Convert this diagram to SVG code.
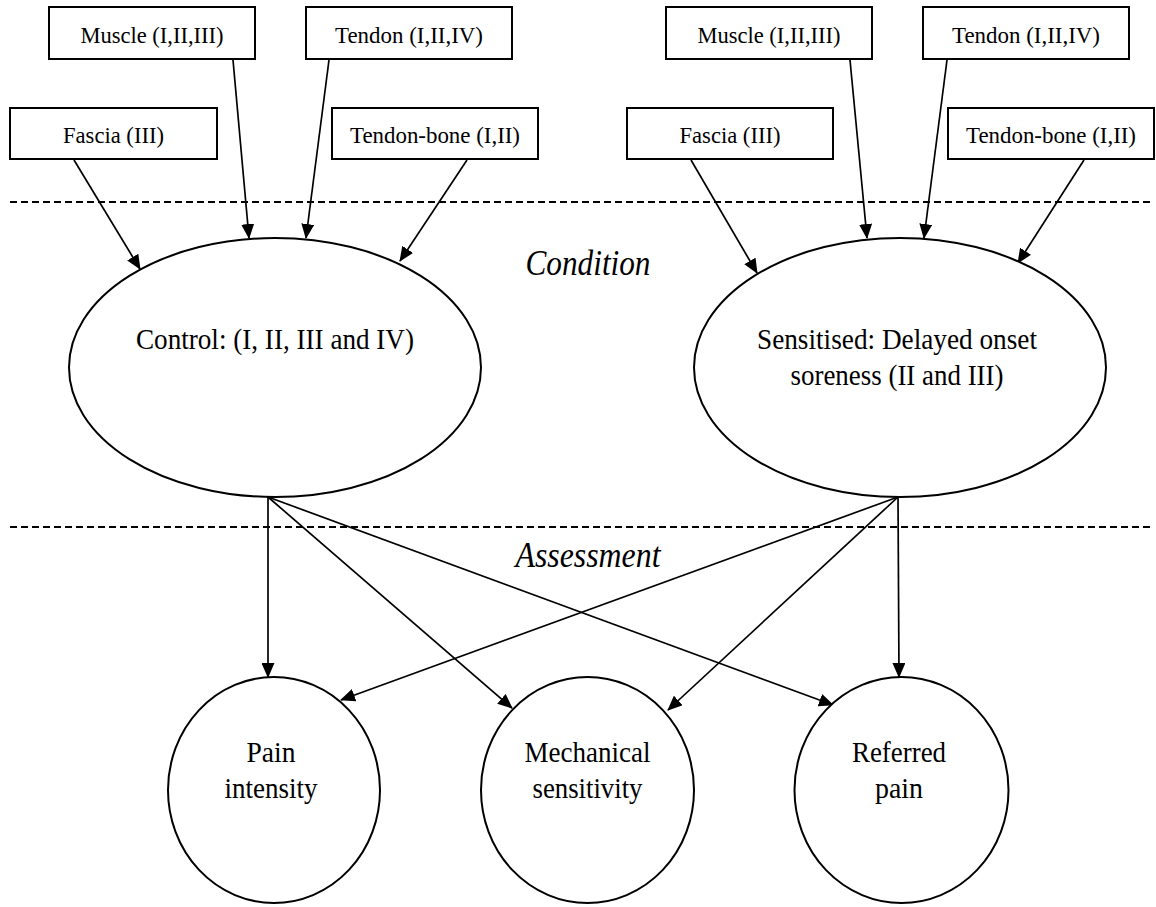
<svg xmlns="http://www.w3.org/2000/svg" width="1156" height="907" viewBox="0 0 1156 907">
<style>
.box{fill:#fff;stroke:#000;stroke-width:2}
.ell{fill:#fff;stroke:#000;stroke-width:2}
.t{font-family:"Liberation Serif","Times New Roman",serif;fill:#000;text-anchor:middle}
.bt{font-size:24px}
.nt{font-size:29px}
.lab{font-size:35px;font-style:italic}
.dash{stroke:#000;stroke-width:2;stroke-dasharray:7,4;fill:none}
.arr{stroke:#000;stroke-width:1.7;fill:none;marker-end:url(#ah)}
</style>
<defs>
<marker id="ah" viewBox="0 0 15 13" refX="14" refY="6.5" markerWidth="15" markerHeight="13" markerUnits="userSpaceOnUse" orient="auto">
<path d="M0,0 L15,6.5 L0,13 z" fill="#000"/>
</marker>
</defs>
<rect width="1156" height="907" fill="#fff"/>
<g id="separators">
<line class="dash" x1="10" y1="202" x2="1150" y2="202"/>
<line class="dash" x1="10" y1="527" x2="1150" y2="527"/>
</g>
<g id="labels">
<text class="t lab" x="588" y="275" textLength="125" lengthAdjust="spacingAndGlyphs">Condition</text>
<text class="t lab" x="588" y="567" textLength="145" lengthAdjust="spacingAndGlyphs">Assessment</text>
</g>
<g id="connectors">
<line class="arr" x1="74" y1="160" x2="140" y2="269"/>
<line class="arr" x1="233" y1="60" x2="249" y2="238"/>
<line class="arr" x1="329" y1="60" x2="306" y2="238"/>
<line class="arr" x1="467" y1="160" x2="400" y2="261"/>
<line class="arr" x1="691" y1="160" x2="757" y2="273"/>
<line class="arr" x1="850" y1="60" x2="867" y2="238"/>
<line class="arr" x1="947" y1="60" x2="924" y2="238"/>
<line class="arr" x1="1084" y1="160" x2="1018" y2="263"/>
<line class="arr" x1="268" y1="497" x2="268" y2="677"/>
<line class="arr" x1="268" y1="497" x2="512" y2="708"/>
<line class="arr" x1="268" y1="497" x2="833" y2="705"/>
<line class="arr" x1="898" y1="497" x2="899" y2="677"/>
<line class="arr" x1="898" y1="497" x2="341" y2="700"/>
<line class="arr" x1="898" y1="497" x2="668" y2="710"/>
</g>
<g id="muscle-left"><rect class="box" x="49" y="7" width="206" height="52"/><text class="t bt" x="152" y="43" textLength="143" lengthAdjust="spacingAndGlyphs">Muscle (I,II,III)</text></g>
<g id="tendon-left"><rect class="box" x="306" y="7" width="206" height="52"/><text class="t bt" x="409" y="43" textLength="148" lengthAdjust="spacingAndGlyphs">Tendon (I,II,IV)</text></g>
<g id="fascia-left"><rect class="box" x="10" y="108" width="207" height="51"/><text class="t bt" x="113.5" y="143" textLength="101" lengthAdjust="spacingAndGlyphs">Fascia (III)</text></g>
<g id="tendonbone-left"><rect class="box" x="332" y="108" width="206" height="51"/><text class="t bt" x="435" y="143" textLength="170" lengthAdjust="spacingAndGlyphs">Tendon-bone (I,II)</text></g>
<g id="muscle-right"><rect class="box" x="666" y="7" width="206" height="52"/><text class="t bt" x="769" y="43" textLength="143" lengthAdjust="spacingAndGlyphs">Muscle (I,II,III)</text></g>
<g id="tendon-right"><rect class="box" x="923" y="7" width="206" height="52"/><text class="t bt" x="1026" y="43" textLength="148" lengthAdjust="spacingAndGlyphs">Tendon (I,II,IV)</text></g>
<g id="fascia-right"><rect class="box" x="627" y="108" width="206" height="51"/><text class="t bt" x="730" y="143" textLength="101" lengthAdjust="spacingAndGlyphs">Fascia (III)</text></g>
<g id="tendonbone-right"><rect class="box" x="948" y="108" width="206" height="51"/><text class="t bt" x="1051" y="143" textLength="170" lengthAdjust="spacingAndGlyphs">Tendon-bone (I,II)</text></g>
<g id="control"><ellipse class="ell" cx="275" cy="367.5" rx="206" ry="129.5"/><text class="t nt" x="275" y="349" textLength="278" lengthAdjust="spacingAndGlyphs">Control: (I, II, III and IV)</text></g>
<g id="sensitised"><ellipse class="ell" cx="900" cy="367.5" rx="206" ry="129.5"/><text class="t nt" x="897" y="349" textLength="280" lengthAdjust="spacingAndGlyphs">Sensitised: Delayed onset</text><text class="t nt" x="897" y="385" textLength="213" lengthAdjust="spacingAndGlyphs">soreness (II and III)</text></g>
<g id="pain-intensity"><ellipse class="ell" cx="274" cy="790" rx="106" ry="113"/><text class="t nt" x="271" y="762" textLength="49" lengthAdjust="spacingAndGlyphs">Pain</text><text class="t nt" x="271" y="798" textLength="93" lengthAdjust="spacingAndGlyphs">intensity</text></g>
<g id="mechanical-sensitivity"><ellipse class="ell" cx="587.5" cy="790" rx="106.5" ry="113"/><text class="t nt" x="587.5" y="762" textLength="126" lengthAdjust="spacingAndGlyphs">Mechanical</text><text class="t nt" x="587.5" y="798" textLength="110" lengthAdjust="spacingAndGlyphs">sensitivity</text></g>
<g id="referred-pain"><ellipse class="ell" cx="901.5" cy="790" rx="107" ry="113"/><text class="t nt" x="899" y="762" textLength="94" lengthAdjust="spacingAndGlyphs">Referred</text><text class="t nt" x="899" y="798" textLength="48" lengthAdjust="spacingAndGlyphs">pain</text></g>
</svg>
